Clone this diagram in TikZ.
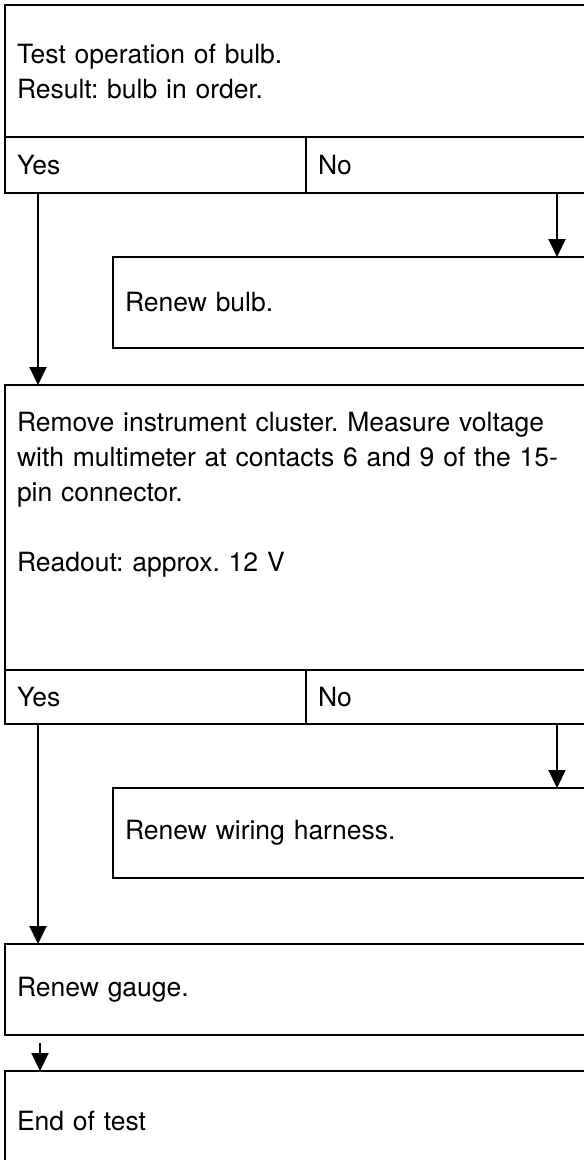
\documentclass[tikz,border=0pt]{standalone}
\usepackage{fontspec}
\setmainfont{TeX Gyre Heros}
\usetikzlibrary{positioning,arrows.meta}
\newcommand{\stepfont}{\fontsize{26.5}{35}\selectfont\frenchspacing}
\tikzset{
  box/.style={draw,line width=2.1pt,anchor=north west,align=left,inner xsep=12pt,inner ysep=0pt,outer sep=0pt,font=\stepfont},
  txt/.style={anchor=north west,align=left,inner sep=0pt,outer sep=0pt,font=\stepfont},
  flow/.style={line width=2.1pt,-{Triangle[length=18pt,width=17pt]}},
}
\begin{document}
\begin{tikzpicture}[x=1pt,y=-1pt]
  \useasboundingbox (0,0) rectangle (584,1160);
  \clip (0,0) rectangle (584,1160);
  % bulb test
  \node[box,text width=571pt,minimum height=132pt] (bulbtest) at (5,5) {Test operation of bulb.\\Result: bulb in order.};
  \node[box,text width=277pt,minimum height=56pt] (yesA) at (bulbtest.south west) {Yes};
  \node[box,text width=270pt,minimum height=56pt] (noA) at (yesA.north east) {No};
  \node[box,text width=463pt,minimum height=91pt] (renewbulb) at (113,257) {Renew bulb.};
  \draw[flow] ([xshift=-43pt]noA.south east) -- ([xshift=-43pt]renewbulb.north east);
  % voltage test
  \node[box,text width=571pt,minimum height=285pt] (voltage) at (5,385) {};
  \node[txt,text width=560pt] (voltagetext) at ([shift={(12,27)}]voltage.north west) {Remove instrument cluster. Measure voltage\\with multimeter at contacts 6 and 9 of the 15-\\pin connector.\\[35pt]Readout: approx. 12 V};
  \draw[flow] ([xshift=33pt]yesA.south west) -- ([xshift=33pt]voltage.north west);
  \node[box,text width=277pt,minimum height=54pt] (yesB) at (voltage.south west) {Yes};
  \node[box,text width=270pt,minimum height=54pt] (noB) at (yesB.north east) {No};
  \node[box,text width=463pt,minimum height=90pt] (wiring) at (113,788) {Renew wiring harness.};
  \draw[flow] ([xshift=-43pt]noB.south east) -- ([xshift=-43pt]wiring.north east);
  % gauge and end
  \node[box,text width=571pt,minimum height=91pt] (gauge) at (5,944) {Renew gauge.};
  \node[box,text width=571pt,minimum height=100pt] (endtest) at (5,1071) {End of test};
  \draw[flow] ([xshift=33pt]yesB.south west) -- ([xshift=33pt]gauge.north west);
  \draw[flow,shorten <=8pt] ([xshift=35pt]gauge.south west) -- ([xshift=35pt]endtest.north west);
\end{tikzpicture}
\end{document}
